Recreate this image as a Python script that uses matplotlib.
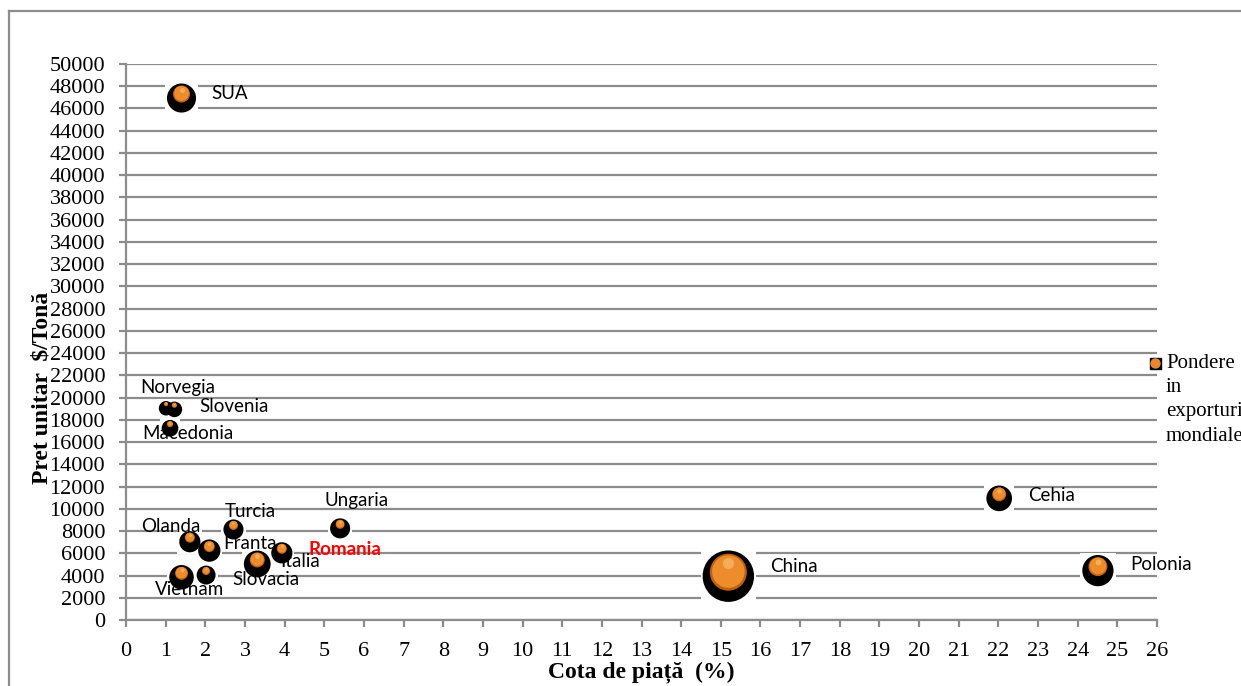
import matplotlib
matplotlib.use("Agg")
import matplotlib.pyplot as plt
import matplotlib.transforms as mtransforms
from matplotlib.lines import Line2D
import numpy as np

# ---------------- data ----------------
countries = ["SUA", "Norvegia", "Slovenia", "Macedonia", "Turcia", "Ungaria",
             "Olanda", "Franta", "Romania", "Italia", "Slovacia", "Vietnam",
             "China", "Cehia", "Polonia"]
cota_piata = [1.40, 1.01, 1.22, 1.11, 2.71, 5.40,
              1.61, 2.10, 3.93, 3.31, 2.02, 1.40,
              15.19, 22.02, 24.51]
pret_unitar = [47300, 19400, 19300, 17600, 8500, 8600,
               7400, 6600, 6400, 5400, 4400, 4200,
               4300, 11300, 4800]
pondere = [2.9, 0.16, 0.25, 0.36, 0.81, 0.81,
           1.0, 1.21, 1.0, 2.25, 0.64, 1.69,
           13.7, 1.96, 3.6]
x_ticks = list(range(0, 27))
y_ticks = list(range(0, 50001, 2000))

# ---------------- styling / layout ----------------
W, H, DPI = 1241, 686, 100
fig = plt.figure(figsize=(W / DPI, H / DPI), dpi=DPI)
fig.patch.set_facecolor("white")

# outer frame
grey = "#8c8c8c"
fig.add_artist(Line2D([9 / W, 9 / W], [0, 1 - 11 / H], color=grey, lw=1.6,
                      transform=fig.transFigure))
fig.add_artist(Line2D([9 / W, 1], [1 - 11 / H, 1 - 11 / H], color=grey, lw=1.6,
                      transform=fig.transFigure))

x0, x1, ytop, ybot = 126, 1157, 64, 620
ax = fig.add_axes([x0 / W, 1 - ybot / H, (x1 - x0) / W, (ybot - ytop) / H])
ax.set_xlim(0, 26)
ax.set_ylim(0, 50000)
ax.set_xticks(x_ticks)
ax.set_yticks(y_ticks)
ax.grid(axis="y", color=grey, lw=1.6, zorder=0)
ax.set_axisbelow(True)
for s in ["top", "right"]:
    ax.spines[s].set_visible(False)
for s in ["left", "bottom"]:
    ax.spines[s].set_color(grey)
    ax.spines[s].set_linewidth(1.6)
ax.tick_params(axis="both", color=grey, width=1.6, length=5,
               labelsize=16, labelcolor="black")
ax.tick_params(axis="y", pad=10)
ax.tick_params(axis="x", pad=11)
for lab in ax.get_xticklabels() + ax.get_yticklabels():
    lab.set_family("Liberation Serif")

ax.set_xlabel("Cota de piață  (%)", family="Liberation Serif",
              fontweight="bold", fontsize=17, va="center")
ax.xaxis.set_label_coords(0.5, -0.0935)
ax.set_ylabel("Pret unitar  $/Tonă", family="Liberation Serif",
              fontweight="bold", fontsize=17, va="center")
ax.yaxis.set_label_coords(-0.0815, 0.417)

# bubble geometry (pixels -> points^2)
px2pt = 72.0 / DPI
d_orange = 10.0 * np.sqrt(np.array(pondere))          # px
d_black = 1.12 * d_orange + 10.0                        # px
d_white = d_black + 4.0

shadow = mtransforms.offset_copy(ax.transData, fig=fig, x=0, y=-4, units="dots")
hl1 = mtransforms.offset_copy(ax.transData, fig=fig, x=0, y=0.6, units="dots")

ax.scatter(cota_piata, pret_unitar, s=(d_white * px2pt) ** 2, marker="s",
           color="white", zorder=2.5, transform=shadow, linewidths=0)
ax.scatter(cota_piata, pret_unitar, s=(d_black * px2pt) ** 2, marker="o",
           color="black", zorder=3, transform=shadow, linewidths=0)
ax.scatter(cota_piata, pret_unitar, s=(d_orange * px2pt) ** 2, marker="o",
           color="#c0600f", zorder=4, linewidths=0)
ax.scatter(cota_piata, pret_unitar, s=(0.88 * d_orange * px2pt) ** 2, marker="o",
           color="#ec8c2a", zorder=4.1, linewidths=0, transform=hl1)
for i in range(len(countries)):
    hl = mtransforms.offset_copy(ax.transData, fig=fig, x=0,
                                 y=0.25 * d_orange[i], units="dots")
    ax.scatter([cota_piata[i]], [pret_unitar[i]],
               s=(0.3 * d_orange[i] * px2pt) ** 2, marker="o",
               color="#f5ad5c", zorder=4.2, linewidths=0, transform=hl)

# label offsets (pixels: dx right, dy down)
label_offsets = {
    "SUA": (30, -1), "Norvegia": (-26, -17), "Slovenia": (25, 1),
    "Macedonia": (-28, 9), "Turcia": (-9, -14), "Ungaria": (-16, -24),
    "Olanda": (-49, -11), "Franta": (14, -3), "Romania": (27, 1),
    "Italia": (23, 2), "Slovacia": (26, 8), "Vietnam": (-27, 16),
    "China": (42, -6), "Cehia": (29, 1), "Polonia": (32, -2),
}
for name, x, y in zip(countries, cota_piata, pret_unitar):
    dx, dy = label_offsets[name]
    kw = dict(color="black", fontweight="normal")
    if name == "Romania":
        kw = dict(color="#ff0000", fontweight="bold")
    ax.annotate(name, (x, y), xytext=(dx, -dy), textcoords="offset pixels",
                ha="left", va="center", fontsize=13.5, family="Lato",
                zorder=2.8, annotation_clip=False, **kw)

# legend (the reference cuts it off at the right edge)
lx, ly = 1155 / W, 1 - 363 / H
fig.add_artist(Line2D([lx], [ly], marker="s", markersize=11 * px2pt,
                      color="black", transform=fig.transFigure, lw=0))
fig.add_artist(Line2D([lx], [ly], marker="o", markersize=9 * px2pt,
                      color="#e8882c", transform=fig.transFigure, lw=0))
for k, line in enumerate(["Pondere", "in", "exporturi", "mondiale"]):
    fig.text(1166 / W, 1 - (363 + 24.5 * k) / H, line, family="Liberation Serif",
             fontsize=15, ha="left", va="center")

fig.savefig("out.png", dpi=DPI)
